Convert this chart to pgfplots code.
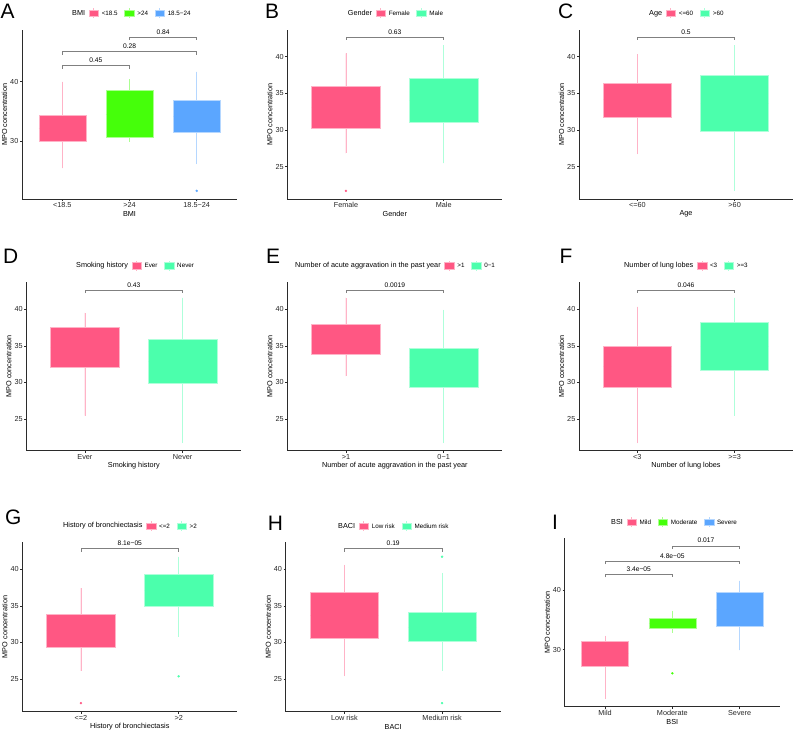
\documentclass[border=0pt]{standalone}
\usepackage{fontspec}
\setmainfont{Liberation Sans}
\usepackage{pgfplots}
\pgfplotsset{compat=1.18}
\usepgfplotslibrary{statistics}

\definecolor{pinkc}{HTML}{FF5783}
\definecolor{greenc}{HTML}{45FF0A}
\definecolor{bluec}{HTML}{5BA6FF}
\definecolor{mintc}{HTML}{4BFFAC}
\definecolor{axc}{HTML}{2B2B2B}
\definecolor{brkc}{HTML}{808080}

\newcommand\fs[1]{\fontsize{#1}{#1}\selectfont}

\pgfplotsset{
  panel/.style={
    scale only axis, anchor=south west, clip=false,
    width=215bp, height=169bp,
    axis x line*=bottom, axis y line*=left,
    axis line style={-, axc, line width=0.6bp},
    every tick/.style={axc, line width=0.5bp},
    tick align=outside, major tick length=2bp,
    /pgf/number format/assume math mode=true,
    tick label style={font=\fs{7.3}, text=black!85},
    xticklabel style={inner sep=0pt, anchor=base, yshift=-6.6bp},
    yticklabel style={inner sep=0pt, anchor=east, xshift=-1.5bp},
    label style={font=\fs{7.3}, text=black},
    ylabel={MPO concentration},
    ylabel style={at={(axis description cs:-0.0814,0.5)}, anchor=center},
    xlabel style={at={(axis description cs:0.5,0)}, anchor=center, yshift=-15bp},
    boxplot/draw direction=y,
  },
  two/.style={panel, xmin=0.4, xmax=2.6, xtick={1,2}},
  three/.style={panel, xmin=0.4, xmax=3.6, xtick={1,2,3}},
  bx/.style={
    fill=#1, draw=#1!45!white, line width=0.5bp,
    mark=*, mark size=1.1bp, mark options={fill=#1, draw=#1, line width=0.2bp},
    boxplot/box extend=0.7, boxplot/whisker extend=0,
    boxplot/every box/.style={fill=#1, draw=#1!45!white, line width=0.5bp},
    boxplot/every whisker/.style={draw=#1!45!white, line width=0.7bp},
    boxplot/every median/.style={draw=none},
  },
  brk/.style={brkc, line width=0.55bp, no marks},
}

% one box: colour, position, lower whisker, lower quartile, median, upper quartile, upper whisker
\newcommand\bplot[7]{\addplot[bx=#1, boxplot prepared={draw position=#2,
  lower whisker=#3, lower quartile=#4, median=#5, upper quartile=#6, upper whisker=#7}]}
\newcommand\plab[3]{\node[font=\fs{6.7}, inner sep=0pt, anchor=base] at (axis cs:#1,#2) {#3};}

% legend pieces
\tikzset{
  legt/.style={font=\fs{7.3}, inner sep=0pt, anchor=west},
  legl/.style={font=\fs{6.3}, inner sep=0pt, anchor=west},
}
\newcommand\legstart[3]{\node[legt] (L0) at (#1bp,-#2bp) {#3};\coordinate (Lp) at (L0.east);}
\newcommand\legitem[2]{%
  \node[fill=#1, draw=#1!45!white, line width=0.3bp, minimum width=9.5bp,
        minimum height=6.5bp, inner sep=0pt, anchor=west] (Lk) at ([xshift=3.5bp]Lp) {};
  \draw[#1!45!white, line width=0.6bp] (Lk.north) -- ++(0,1.6bp) (Lk.south) -- ++(0,-1.6bp);
  \node[legl] (Ll) at ([xshift=3bp]Lk.east) {#2};
  \coordinate (Lp) at ([xshift=3bp]Ll.east);}
\newcommand\letter[3]{\node[font=\fs{21}, inner sep=0pt, anchor=base west] at (#1bp,-#2bp) {#3};}

\begin{document}
\begin{tikzpicture}
\path[use as bounding box] (0,0) rectangle (794bp,-731bp);

% ---------------- A: BMI
\begin{axis}[three, at={(22bp,-199bp)}, ymin=20.22, ymax=48.72, ytick={30,40},
  xticklabels={<18.5,>24,18.5−24}, xlabel={BMI}]
\bplot{pinkc}{1}{25.4}{30.0}{32.1}{34.3}{40.0} coordinates {};
\bplot{greenc}{2}{29.9}{30.6}{34.5}{38.5}{40.4} coordinates {};
\bplot{bluec}{3}{26.1}{31.4}{34.1}{36.8}{41.7} coordinates {(3,21.6)};
\addplot[brk] coordinates {(1,42.2) (1,42.7) (2,42.7) (2,42.2)};
\addplot[brk] coordinates {(1,44.56) (1,45.06) (3,45.06) (3,44.56)};
\addplot[brk] coordinates {(2,47.0) (2,47.5) (3,47.5) (3,47.0)};
\plab{1.5}{43.2}{0.45}
\plab{2}{45.56}{0.28}
\plab{2.5}{48.0}{0.84}
\end{axis}

% ---------------- B: Gender
\begin{axis}[two, at={(287.3bp,-199bp)}, ymin=20.59, ymax=43.65, ytick={25,30,35,40},
  xticklabels={Female,Male}, xlabel={Gender}]
\bplot{pinkc}{1}{26.8}{30.27}{33.1}{35.95}{40.45} coordinates {(1,21.7)};
\bplot{mintc}{2}{25.45}{31.05}{34.0}{37.0}{41.6} coordinates {};
\addplot[brk] coordinates {(1,42.3) (1,42.7) (2,42.7) (2,42.3)};
\plab{1.5}{43.1}{0.63}
\end{axis}

% ---------------- C: Age
\begin{axis}[two, at={(579bp,-199bp)}, width=214bp, ymin=20.59, ymax=43.65, ytick={25,30,35,40},
  xticklabels={<=60,>60}, xlabel={Age}]
\bplot{pinkc}{1}{26.7}{31.77}{34.1}{36.45}{40.36} coordinates {};
\bplot{mintc}{2}{21.7}{29.8}{33.6}{37.5}{41.6} coordinates {};
\addplot[brk] coordinates {(1,42.3) (1,42.7) (2,42.7) (2,42.3)};
\plab{1.5}{43.1}{0.5}
\end{axis}

% ---------------- D: Smoking history
\begin{axis}[two, at={(26.3bp,-450.7bp)}, ymin=20.67, ymax=43.76, ytick={25,30,35,40},
  xticklabels={Ever,Never}, xlabel={Smoking history}]
\bplot{pinkc}{1}{25.45}{32.1}{34.8}{37.5}{39.5} coordinates {};
\bplot{mintc}{2}{21.7}{29.9}{32.9}{35.96}{41.6} coordinates {};
\addplot[brk] coordinates {(1,42.2) (1,42.6) (2,42.6) (2,42.2)};
\plab{1.5}{43.0}{0.43}
\end{axis}

% ---------------- E: acute aggravation
\begin{axis}[two, at={(287.3bp,-450.7bp)}, ymin=20.67, ymax=43.76, ytick={25,30,35,40},
  xticklabels={>1,0−1}, xlabel={Number of acute aggravation in the past year}]
\bplot{pinkc}{1}{30.86}{33.9}{36.0}{38.0}{41.6} coordinates {};
\bplot{mintc}{2}{21.7}{29.36}{32.0}{34.7}{39.9} coordinates {};
\addplot[brk] coordinates {(1,42.2) (1,42.6) (2,42.6) (2,42.2)};
\plab{1.5}{43.0}{0.0019}
\end{axis}

% ---------------- F: lung lobes
\begin{axis}[two, at={(579bp,-450.7bp)}, width=214bp, ymin=20.67, ymax=43.76, ytick={25,30,35,40},
  xticklabels={<3,>=3}, xlabel={Number of lung lobes}]
\bplot{pinkc}{1}{21.7}{29.4}{32.2}{35.0}{40.36} coordinates {};
\bplot{mintc}{2}{25.45}{31.6}{34.9}{38.2}{41.6} coordinates {};
\addplot[brk] coordinates {(1,42.2) (1,42.6) (2,42.6) (2,42.2)};
\plab{1.5}{43.0}{0.046}
\end{axis}

% ---------------- G: bronchiectasis
\begin{axis}[two, at={(22.3bp,-711.7bp)}, height=169.4bp, ymin=20.53, ymax=43.67, ytick={25,30,35,40},
  xticklabels={<=2,>2}, xlabel={History of bronchiectasis}]
\bplot{pinkc}{1}{26.1}{29.4}{31.6}{33.9}{37.4} coordinates {(1,21.7)};
\bplot{mintc}{2}{30.77}{34.9}{37.1}{39.3}{41.7} coordinates {(2,25.37)};
\addplot[brk] coordinates {(1,42.4) (1,42.8) (2,42.8) (2,42.4)};
\plab{1.5}{43.2}{8.1e−05}
\end{axis}

% ---------------- H: BACI
\begin{axis}[two, at={(285.7bp,-711.7bp)}, height=169.4bp, ymin=20.53, ymax=43.67, ytick={25,30,35,40},
  xticklabels={Low risk,Medium risk}, xlabel={BACI}]
\bplot{pinkc}{1}{25.4}{30.6}{33.7}{36.8}{40.6} coordinates {};
\bplot{mintc}{2}{26.1}{30.1}{32.1}{34.1}{39.5} coordinates {(2,41.7) (2,21.7)};
\addplot[brk] coordinates {(1,42.4) (1,42.8) (2,42.8) (2,42.4)};
\plab{1.5}{43.2}{0.19}
\end{axis}

% ---------------- I: BSI
\begin{axis}[three, at={(564.7bp,-706.7bp)}, width=215.3bp, height=168.4bp, ymin=20.45, ymax=48.66, ytick={30,40},
  xticklabels={Mild,Moderate,Severe}, xlabel={BSI}]
\bplot{pinkc}{1}{21.7}{27.27}{29.4}{31.46}{32.3} coordinates {};
\bplot{greenc}{2}{32.8}{33.58}{34.4}{35.3}{36.5} coordinates {(2,26.05)};
\bplot{bluec}{3}{29.9}{33.97}{36.8}{39.6}{41.56} coordinates {};
\addplot[brk] coordinates {(1,42.1) (1,42.6) (2,42.6) (2,42.1)};
\addplot[brk] coordinates {(1,44.35) (1,44.85) (3,44.85) (3,44.35)};
\addplot[brk] coordinates {(2,46.9) (2,47.4) (3,47.4) (3,46.9)};
\plab{1.5}{43.1}{3.4e−05}
\plab{2}{45.35}{4.8e−05}
\plab{2.5}{47.9}{0.017}
\end{axis}

% ---------------- panel letters
\letter{0.5}{18.3}{A}
\letter{265}{18.3}{B}
\letter{558}{18.3}{C}
\letter{3}{263.3}{D}
\letter{266}{263.3}{E}
\letter{559.3}{263.3}{F}
\letter{5}{524.3}{G}
\letter{267.7}{530.7}{H}
\letter{552}{529}{I}

% ---------------- legends
\legstart{72}{13.3}{BMI}\legitem{pinkc}{<18.5}\legitem{greenc}{>24}\legitem{bluec}{18.5−24}
\legstart{347.7}{13.3}{Gender}\legitem{pinkc}{Female}\legitem{mintc}{Male}
\legstart{649}{13.3}{Age}\legitem{pinkc}{<=60}\legitem{mintc}{>60}
\legstart{76}{265.7}{Smoking history}\legitem{pinkc}{Ever}\legitem{mintc}{Never}
\legstart{295}{265.7}{Number of acute aggravation in the past year}\legitem{pinkc}{>1}\legitem{mintc}{0−1}
\legstart{624}{265.7}{Number of lung lobes}\legitem{pinkc}{<3}\legitem{mintc}{>=3}
\legstart{63}{526}{History of bronchiectasis}\legitem{pinkc}{<=2}\legitem{mintc}{>2}
\legstart{338}{526}{BACI}\legitem{pinkc}{Low risk}\legitem{mintc}{Medium risk}
\legstart{611}{522.3}{BSI}\legitem{pinkc}{Mild}\legitem{greenc}{Moderate}\legitem{bluec}{Severe}
\end{tikzpicture}
\end{document}
